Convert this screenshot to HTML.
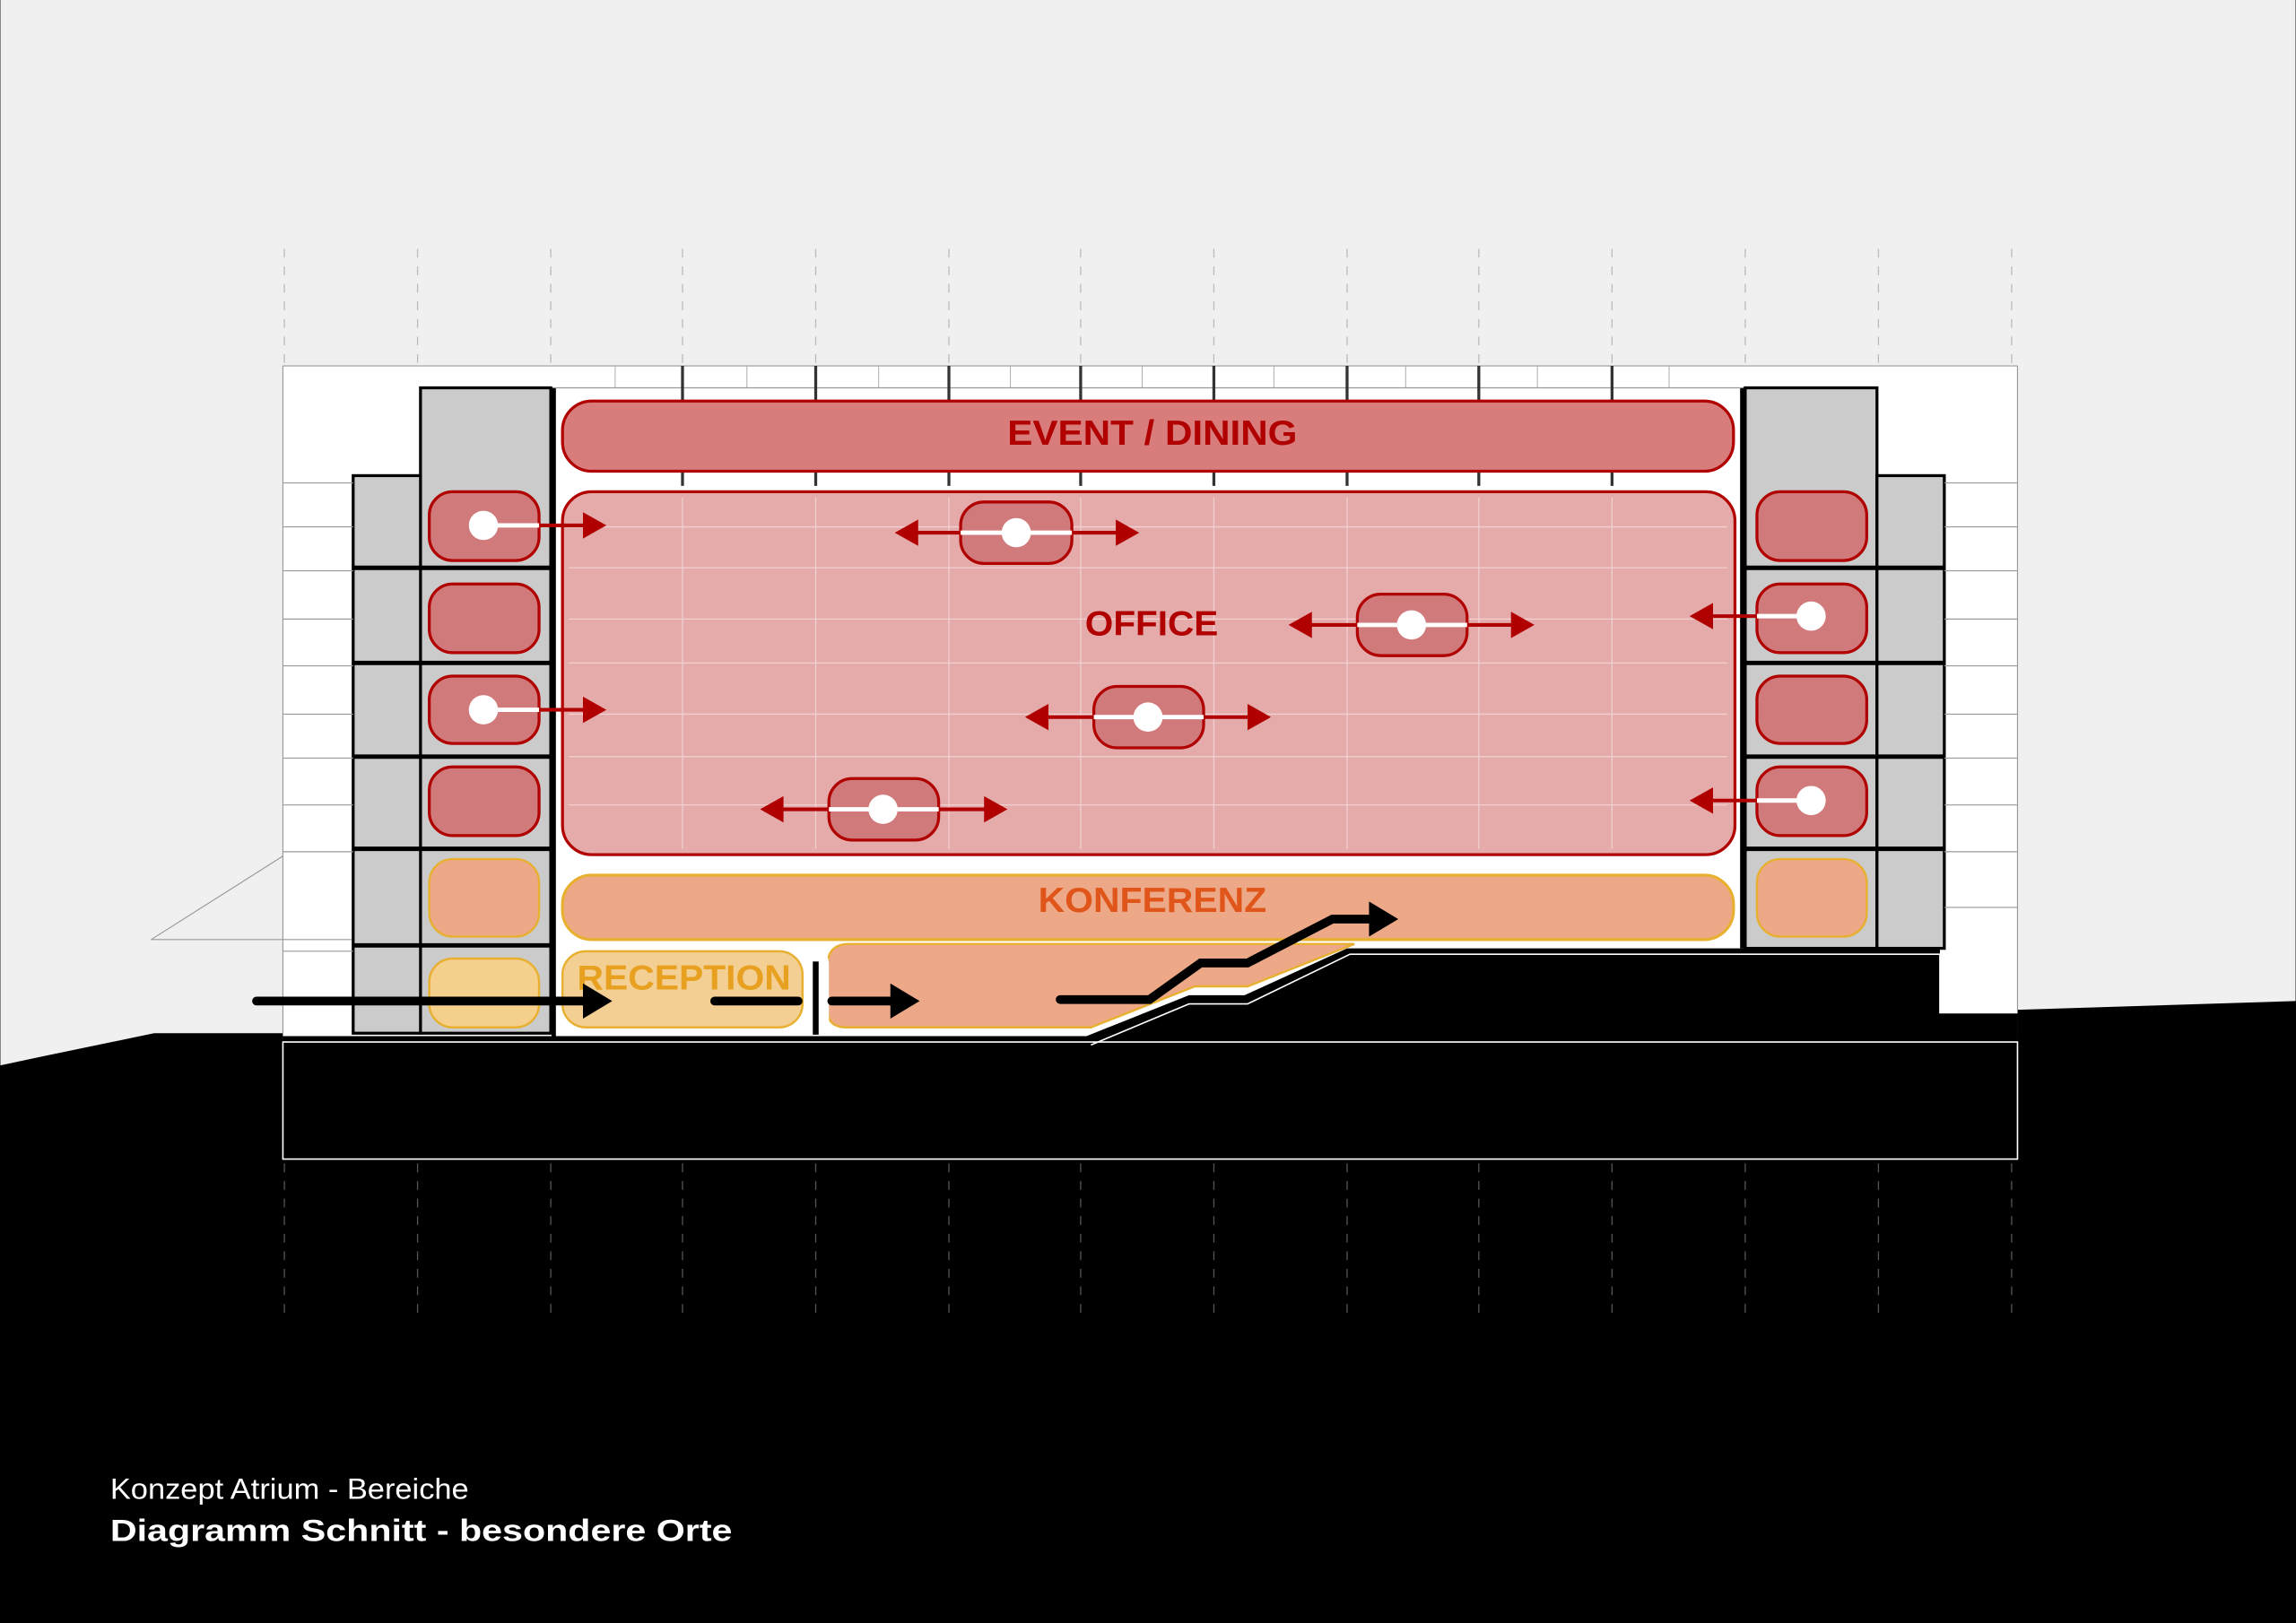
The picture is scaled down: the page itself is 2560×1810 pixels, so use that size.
<!DOCTYPE html>
<html><head><meta charset="utf-8"><style>
html,body{margin:0;padding:0;background:#000;}
svg{display:block;}
</style></head><body>
<svg width="2560" height="1810" viewBox="0 0 1568 1109" xmlns="http://www.w3.org/2000/svg" font-family="Liberation Sans, Arial, sans-serif">
<rect x="0" y="0" width="1568" height="1109" fill="#000"/>
<path d="M0 0 H1568 V684 L1378 690 L1378 706 L193 706 L105 706 L28 722 L0 728 Z" fill="#f0f0f0"/>
<rect x="193" y="250" width="1185" height="460" fill="#fff"/>
<!-- cores -->
<rect x="287" y="265" width="89" height="441" fill="#cbcbcb" stroke="#000" stroke-width="2"/>
<rect x="241" y="325" width="46" height="381" fill="#cbcbcb" stroke="#000" stroke-width="2"/>
<rect x="1192" y="265" width="90" height="383" fill="#cbcbcb" stroke="#000" stroke-width="2"/>
<rect x="1282" y="325" width="46" height="323" fill="#cbcbcb" stroke="#000" stroke-width="2"/>
<line x1="378" y1="265" x2="378" y2="708" stroke="#000" stroke-width="3"/>
<line x1="1190" y1="265" x2="1190" y2="648" stroke="#000" stroke-width="3"/>
<g stroke="#000" stroke-width="3">
<line x1="241" y1="388" x2="378" y2="388"/><line x1="241" y1="453" x2="378" y2="453"/><line x1="241" y1="517" x2="378" y2="517"/><line x1="241" y1="580" x2="378" y2="580"/><line x1="241" y1="646" x2="378" y2="646"/>
<line x1="1190" y1="388" x2="1328" y2="388"/><line x1="1190" y1="453" x2="1328" y2="453"/><line x1="1190" y1="517" x2="1328" y2="517"/><line x1="1190" y1="580" x2="1328" y2="580"/>
</g>
<g stroke="#999" stroke-width="0.7">
<line x1="193" y1="330" x2="241" y2="330"/><line x1="193" y1="360" x2="241" y2="360"/><line x1="193" y1="390" x2="241" y2="390"/><line x1="193" y1="423" x2="241" y2="423"/><line x1="193" y1="455" x2="241" y2="455"/><line x1="193" y1="488" x2="241" y2="488"/><line x1="193" y1="518" x2="241" y2="518"/><line x1="193" y1="550" x2="241" y2="550"/><line x1="193" y1="582" x2="241" y2="582"/><line x1="193" y1="650" x2="241" y2="650"/>
<line x1="1328" y1="330" x2="1378" y2="330"/><line x1="1328" y1="360" x2="1378" y2="360"/><line x1="1328" y1="390" x2="1378" y2="390"/><line x1="1328" y1="423" x2="1378" y2="423"/><line x1="1328" y1="455" x2="1378" y2="455"/><line x1="1328" y1="488" x2="1378" y2="488"/><line x1="1328" y1="518" x2="1378" y2="518"/><line x1="1328" y1="550" x2="1378" y2="550"/><line x1="1328" y1="582" x2="1378" y2="582"/><line x1="1328" y1="620" x2="1378" y2="620"/>
<line x1="193" y1="250" x2="1378" y2="250"/><line x1="378" y1="265" x2="1190" y2="265"/>
<line x1="193" y1="250" x2="193" y2="706"/><line x1="1378" y1="250" x2="1378" y2="690"/>
<line x1="103" y1="642" x2="193" y2="585"/><line x1="103" y1="642" x2="240" y2="642"/>
</g>
<g stroke="#aaa" stroke-width="0.6">
<path d="M420 250V265M510 250V265M600 250V265M690 250V265M780 250V265M870 250V265M960 250V265M1050 250V265M1140 250V265"/>
</g>
<g stroke="#333" stroke-width="2">
<path d="M466 250V332M557 250V332M648 250V332M738 250V332M829 250V332M920 250V332M1010 250V332M1101 250V332"/>
</g>
<g stroke="#bbb" stroke-width="0.8" stroke-dasharray="6 6">
<path d="M194 170V250M285 170V250M376 170V250M466 170V250M557 170V250M648 170V250M738 170V250M829 170V250M920 170V250M1010 170V250M1101 170V250M1192 170V250M1283 170V250M1374 170V250"/>
</g>
<g stroke="#555" stroke-width="0.8" stroke-dasharray="6 6">
<path d="M194 795V900M285 795V900M376 795V900M466 795V900M557 795V900M648 795V900M738 795V900M829 795V900M920 795V900M1010 795V900M1101 795V900M1192 795V900M1283 795V900M1374 795V900"/>
</g>
<!-- orange lower area -->
<path d="M565 660 Q565 645 580 645 L925 645 L852 674 L816 674 L745 702 L578 702 Q565 702 565 690 Z" fill="#eda987" stroke="#e8b030" stroke-width="1.5"/>
<!-- floor black -->
<path d="M193 708 H742 L812 680 H850 L920 648 H1325 V692 H1378 V792 H193 Z" fill="#000"/>
<rect x="193" y="712" width="1185" height="80" fill="none" stroke="#fff" stroke-width="1"/>
<path d="M745 714 L812 686 H852 L922 652 H1325 V692 H1378" fill="none" stroke="#fff" stroke-width="1"/>
<!-- event -->
<rect x="384" y="274" width="800" height="48" rx="20" fill="#d87c7c" stroke="#b00000" stroke-width="2"/>
<!-- office -->
<rect x="384" y="336" width="801" height="248" rx="20" fill="#e5aaaa" stroke="#b00000" stroke-width="2"/>
<g stroke="#f0d0d0" stroke-width="0.8">
<path d="M466 340V580M557 340V580M648 340V580M738 340V580M829 340V580M920 340V580M1010 340V580M1101 340V580M388 360H1180M388 388H1180M388 423H1180M388 453H1180M388 488H1180M388 517H1180M388 550H1180"/>
</g>
<rect x="384" y="598" width="800" height="44" rx="20" fill="#eda987" stroke="#e8b030" stroke-width="2"/>
<!-- reception -->
<path d="M380 706 V646 H552 Q566 646 566 660 V706" fill="#fff"/>
<rect x="384" y="650" width="164" height="52" rx="16" fill="#f3cf93" stroke="#e8b030" stroke-width="1.5"/>
<rect x="555" y="657" width="4" height="50" fill="#000"/>
<!-- pods -->
<g fill="#d07a7c" stroke="#b00000" stroke-width="2">
<rect x="293" y="336" width="75" height="47" rx="16"/><rect x="293" y="399" width="75" height="47" rx="16"/><rect x="293" y="462" width="75" height="46" rx="16"/><rect x="293" y="524" width="75" height="47" rx="16"/>
<rect x="1200" y="336" width="75" height="47" rx="16"/><rect x="1200" y="399" width="75" height="47" rx="16"/><rect x="1200" y="462" width="75" height="46" rx="16"/><rect x="1200" y="524" width="75" height="47" rx="16"/>
<rect x="656" y="343" width="76" height="42" rx="16"/><rect x="927" y="406" width="75" height="42" rx="16"/><rect x="747" y="469" width="75" height="42" rx="16"/><rect x="566" y="532" width="75" height="42" rx="16"/>
</g>
<g fill="#eda987" stroke="#e8b030" stroke-width="1.5">
<rect x="293" y="587" width="75" height="53" rx="16"/><rect x="1200" y="587" width="75" height="53" rx="16"/>
</g>
<rect x="293" y="655" width="75" height="47" rx="16" fill="#f5cf8c" stroke="#e8b030" stroke-width="1.5"/>
<!-- texts -->
<g font-weight="bold" font-size="24">
<text x="688" y="304" fill="#b00000" textLength="198" lengthAdjust="spacingAndGlyphs">EVENT / DINING</text>
<text x="741" y="434" fill="#b00000" textLength="91" lengthAdjust="spacingAndGlyphs">OFFICE</text>
<text x="709" y="623" fill="#e0561a" textLength="156" lengthAdjust="spacingAndGlyphs">KONFERENZ</text>
<text x="394" y="676" fill="#e8a020" textLength="146" lengthAdjust="spacingAndGlyphs">RECEPTION</text>
</g>
<!-- red arrows -->
<g stroke="#b00000" stroke-width="2.5" fill="none">
<line x1="368" y1="359" x2="400" y2="359"/><line x1="368" y1="485" x2="400" y2="485"/>
<line x1="625" y1="364" x2="764" y2="364"/><line x1="894" y1="427" x2="1034" y2="427"/><line x1="714" y1="490" x2="854" y2="490"/><line x1="533" y1="553" x2="674" y2="553"/>
<line x1="1168" y1="421" x2="1200" y2="421"/><line x1="1168" y1="547" x2="1200" y2="547"/>
</g>
<g fill="#b00000">
<path d="M398 350 L414 359 L398 368Z"/><path d="M398 476 L414 485 L398 494Z"/>
<path d="M627 355 L611 364 L627 373Z"/><path d="M762 355 L778 364 L762 373Z"/>
<path d="M896 418 L880 427 L896 436Z"/><path d="M1032 418 L1048 427 L1032 436Z"/>
<path d="M716 481 L700 490 L716 499Z"/><path d="M852 481 L868 490 L852 499Z"/>
<path d="M535 544 L519 553 L535 562Z"/><path d="M672 544 L688 553 L672 562Z"/>
<path d="M1170 412 L1154 421 L1170 430Z"/><path d="M1170 538 L1154 547 L1170 556Z"/>
</g>
<g stroke="#fff" stroke-width="3">
<line x1="330" y1="359" x2="368" y2="359"/><line x1="330" y1="485" x2="368" y2="485"/>
<line x1="656" y1="364" x2="732" y2="364"/><line x1="927" y1="427" x2="1002" y2="427"/><line x1="747" y1="490" x2="822" y2="490"/><line x1="566" y1="553" x2="641" y2="553"/>
<line x1="1200" y1="421" x2="1237" y2="421"/><line x1="1200" y1="547" x2="1237" y2="547"/>
</g>
<g fill="#fff">
<circle cx="330" cy="359" r="10"/><circle cx="330" cy="485" r="10"/><circle cx="694" cy="364" r="10"/><circle cx="964" cy="427" r="10"/><circle cx="784" cy="490" r="10"/><circle cx="603" cy="553" r="10"/><circle cx="1237" cy="421" r="10"/><circle cx="1237" cy="547" r="10"/>
</g>
<!-- black arrows -->
<g stroke="#000" stroke-width="6" stroke-linecap="round" fill="none">
<line x1="175" y1="684" x2="402" y2="684"/>
<line x1="488" y1="684" x2="545" y2="684"/>
<line x1="568" y1="684" x2="612" y2="684"/>
<path d="M724 683 H785 L820 658 H852 L910 628 H938" stroke-linejoin="miter"/>
</g>
<g fill="#000">
<path d="M398 672 L418 684 L398 696Z"/><path d="M608 672 L628 684 L608 696Z"/><path d="M935 616 L955 628 L935 640Z"/>
</g>
<!-- captions -->
<text x="75" y="1024" font-size="20" fill="#fff" textLength="245" lengthAdjust="spacingAndGlyphs">Konzept Atrium - Bereiche</text>
<text x="75" y="1053" font-size="21" font-weight="bold" fill="#fff" textLength="425" lengthAdjust="spacingAndGlyphs">Diagramm Schnitt - besondere Orte</text>
</svg>
</body></html>
